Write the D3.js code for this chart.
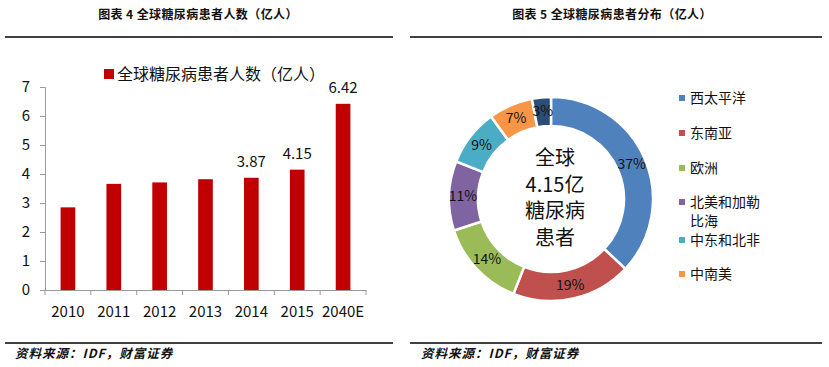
<!DOCTYPE html>
<html><head><meta charset="utf-8">
<script src="https://cdn.jsdelivr.net/npm/d3@7"></script>
<style>body{margin:0;background:#fff}svg{display:block}</style>
</head><body>
<svg id="c" width="829" height="367"></svg>
<script>
const years = ["2010","2011","2012","2013","2014","2015","2040E"];
const patients = [2.85, 3.66, 3.71, 3.82, 3.87, 4.15, 6.42];
const labelled = [false,false,false,false,true,true,true];
const yTicks = [0,1,2,3,4,5,6,7];
const regionLegend = [["西太平洋"],["东南亚"],["欧洲"],["北美和加勒","比海"],["中东和北非"],["中南美"]];
const shares = [37, 19, 14, 11, 9, 7, 3];
const colors = ["#4F81BD","#C0504D","#9BBB59","#8064A2","#4BACC6","#F79646","#2C4D75"];

const svg = d3.select("#c");
const FONT = "'Noto Sans CJK SC','Noto Sans',sans-serif";

// titles
svg.append("text").attr("x",198).attr("y",19).attr("text-anchor","middle")
  .attr("font-family",FONT).attr("font-weight","bold").attr("font-size",12).attr("fill","#111")
  .attr("letter-spacing",0.4).text("图表 4 全球糖尿病患者人数（亿人）");
svg.append("text").attr("x",612).attr("y",19).attr("text-anchor","middle")
  .attr("font-family",FONT).attr("font-weight","bold").attr("font-size",12).attr("fill","#111")
  .attr("letter-spacing",0.4).text("图表 5 全球糖尿病患者分布（亿人）");
// rules
[[5,393],[410,822]].forEach(([a,b])=>{
  [37,343].forEach(yy=>svg.append("line").attr("x1",a).attr("x2",b).attr("y1",yy).attr("y2",yy)
    .attr("stroke","#000").attr("stroke-width",1.3));
});
// sources
[15,421].forEach(xx=>svg.append("text").attr("x",xx).attr("y",358)
  .attr("font-family",FONT).attr("font-style","italic")
  .attr("font-weight","bold").attr("font-size",12.5).attr("letter-spacing",1).attr("fill","#111")
  .text("资料来源：IDF，财富证券"));

// bar chart
const x = d3.scaleBand().domain(years).range([45,366]).paddingInner(0.68).paddingOuter(0.34);
const y = d3.scaleLinear().domain([0,7]).range([290,87]);
const g = svg.append("g");
const ya = g.append("g").attr("transform","translate(45,0)")
  .call(d3.axisLeft(y).tickValues(yTicks).tickSize(5).tickPadding(10).tickFormat(d3.format("d")));
ya.selectAll("text").attr("font-family",FONT).attr("font-size",15).attr("fill","#111");
const xa = g.append("g").attr("transform","translate(0,290)")
  .call(d3.axisBottom(x).tickSize(0).tickPadding(16));
xa.selectAll("text").attr("font-family",FONT).attr("font-size",15).attr("fill","#111");
[ya,xa].forEach(a=>{a.select(".domain").attr("stroke","#999");a.selectAll("line").attr("stroke","#999");});
// category boundary ticks
d3.range(years.length+1).forEach(i=>{
  const xx = 45 + i*(321/years.length);
  g.append("line").attr("x1",xx).attr("x2",xx).attr("y1",290).attr("y2",295).attr("stroke","#999");
});
g.selectAll("rect.bar").data(patients).join("rect").attr("class","bar")
  .attr("x",(d,i)=>x(years[i])).attr("width",x.bandwidth())
  .attr("y",d=>y(d)).attr("height",d=>290-y(d)).attr("fill","#C00000");
g.selectAll("text.lbl").data(patients.map((d,i)=>({d,i})).filter(o=>labelled[o.i])).join("text")
  .attr("class","lbl").attr("x",o=>x(years[o.i])+x.bandwidth()/2).attr("y",o=>y(o.d)-11)
  .attr("text-anchor","middle").attr("font-family",FONT).attr("font-size",15).attr("fill","#111")
  .text(o=>o.d.toFixed(2));
// legend
g.append("rect").attr("x",104).attr("y",69).attr("width",10).attr("height",10).attr("fill","#C00000");
g.append("text").attr("x",117).attr("y",80).attr("font-family",FONT).attr("font-size",16).attr("fill","#111")
  .text("全球糖尿病患者人数（亿人）");

// donut
const cx = 551, cy = 199;
const pie = d3.pie().sort(null).value(d=>d);
const arcs = pie(shares);
const arc = d3.arc().innerRadius(73).outerRadius(102);
const larc = d3.arc().innerRadius(88).outerRadius(88);
const pg = svg.append("g").attr("transform",`translate(${cx},${cy})`);
pg.selectAll("path").data(arcs).join("path").attr("d",arc)
  .attr("fill",(d,i)=>colors[i]).attr("stroke","#fff").attr("stroke-width",2.5);
pg.selectAll("text.pl").data(arcs).join("text").attr("class","pl")
  .attr("transform",d=>`translate(${larc.centroid(d)})`).attr("dy","0.35em")
  .attr("text-anchor","middle").attr("font-family",FONT).attr("font-size",14).attr("fill","#111")
  .text(d=>d.data+"%");
["全球","4.15亿","糖尿病","患者"].forEach((t,i)=>{
  pg.append("text").attr("x",4).attr("y",-41+i*26.5).attr("dy","0.35em").attr("text-anchor","middle")
    .attr("font-family",FONT).attr("font-size",20).attr("fill","#111").text(t);
});
// legend right
const ly = [98,133,168,202,240,274];
regionLegend.forEach((lines,i)=>{
  svg.append("rect").attr("x",679).attr("y",ly[i]-3).attr("width",6).attr("height",6).attr("fill",colors[i]);
  lines.forEach((s,j)=>svg.append("text").attr("x",690).attr("y",ly[i]+j*19.5).attr("dy","0.35em")
    .attr("font-family",FONT).attr("font-size",14).attr("fill","#111").text(s));
});
</script>
</body></html>
